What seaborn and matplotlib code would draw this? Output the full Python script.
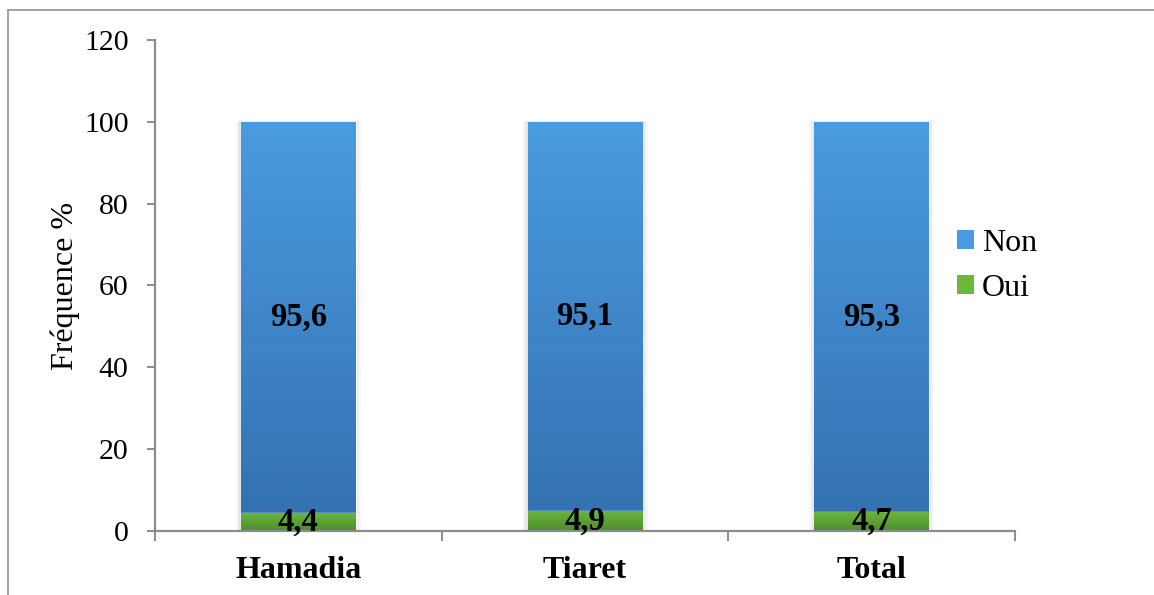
import numpy as np
import pandas as pd
import matplotlib
matplotlib.use("Agg")
import matplotlib.pyplot as plt
import seaborn as sns
from matplotlib.colors import LinearSegmentedColormap
from matplotlib.lines import Line2D
from matplotlib.patches import Patch

# Data
sites = ["Hamadia", "Tiaret", "Total"]
non_pct = [95.6, 95.1, 95.3]
oui_pct = [4.4, 4.9, 4.7]
yticks = [0, 20, 40, 60, 80, 100, 120]

df = pd.DataFrame({"site": sites, "non": non_pct, "oui": oui_pct})
df["cumul"] = df["oui"] + df["non"]

sns.set_theme(style="white")
plt.rcParams["font.family"] = ["Liberation Serif", "DejaVu Serif"]
plt.rcParams["text.color"] = "black"
plt.rcParams["xtick.color"] = "black"
plt.rcParams["ytick.color"] = "black"
plt.rcParams["axes.labelcolor"] = "black"

fig = plt.figure(figsize=(11.54, 5.95), dpi=100)
ax = fig.add_axes([0.1343, 0.1076, 0.8796 - 0.1343, 0.9328 - 0.1076])

blue_top, blue_bot = "#4A9BE1", "#3370AF"
green_top, green_bot = "#6CB83C", "#4E8B2E"

# Stacked bars: full height (Non on top of Oui), then the Oui layer
sns.barplot(data=df, x="site", y="cumul", color=blue_top, width=0.4,
            saturation=1, ax=ax, zorder=2)
sns.barplot(data=df, x="site", y="oui", color=green_top, width=0.4,
            saturation=1, ax=ax, zorder=3)

ax.set_xlim(-0.5, 2.5)
ax.set_ylim(0, 120)

# Vertical gradient fill for each bar segment
blue_cmap = LinearSegmentedColormap.from_list("b", [blue_bot, blue_top])
green_cmap = LinearSegmentedColormap.from_list("g", [green_bot, green_top])
grad = np.linspace(0, 1, 256).reshape(-1, 1)
n = len(sites)
for i, p in enumerate(ax.patches):
    x0, y0 = p.get_x(), p.get_y()
    w, h = p.get_width(), p.get_height()
    cmap = blue_cmap if i < n else green_cmap
    # soft shadow behind each bar
    if i < n:
        for k, a in enumerate([0.05, 0.04, 0.03]):
            d = 0.006 * (k + 1)
            ax.add_patch(plt.Rectangle((x0 - d, y0), w + 2 * d, h + d * 8,
                                       color="black", alpha=a, lw=0, zorder=1))
    im = ax.imshow(grad, cmap=cmap, origin="lower", aspect="auto",
                   extent=(x0, x0 + w, y0, y0 + h),
                   zorder=p.get_zorder() + 0.1)
    im.set_clip_path(p)

ax.set_xlim(-0.5, 2.5)
ax.set_ylim(0, 120)

# Value labels centred in each segment
for i in range(n):
    ax.text(i, oui_pct[i] + non_pct[i] / 2, f"{non_pct[i]:.1f}".replace(".", ","),
            ha="center", va="center", fontsize=23.5, fontweight="bold",
            color="black", zorder=6)
    ax.text(i, oui_pct[i] / 2, f"{oui_pct[i]:.1f}".replace(".", ","),
            ha="center", va="center", fontsize=23.5, fontweight="bold",
            color="black", zorder=6)

# Axes styling
axis_col = "#8C8C8C"
for s in ["top", "right"]:
    ax.spines[s].set_visible(False)
for s in ["left", "bottom"]:
    ax.spines[s].set_color(axis_col)
    ax.spines[s].set_linewidth(1.6)
    ax.spines[s].set_zorder(5)

ax.set_yticks(yticks)
ax.set_yticklabels([str(v) for v in yticks], fontsize=21.5)
ax.tick_params(axis="y", direction="out", length=6, width=1.4, color=axis_col,
               labelcolor="black", left=True, pad=13)

ax.set_xticks(range(n))
ax.set_xticklabels(sites, fontsize=23, fontweight="bold")
ax.set_xticks([-0.5, 0.5, 1.5, 2.5], minor=True)
ax.tick_params(axis="x", which="major", length=0, pad=18, labelcolor="black")
ax.tick_params(axis="x", which="minor", direction="out", length=7, width=1.4,
               color=axis_col, bottom=True)

ax.set_xlabel("")
ax.set_ylabel("Fréquence %", fontsize=23, color="black")
ax.yaxis.set_label_coords(-0.087, 0.5)

# Legend
handles = [Patch(facecolor=blue_top, edgecolor="none", label="Non"),
           Patch(facecolor=green_top, edgecolor="none", label="Oui")]
fig.legend(handles=handles, loc="center left", bbox_to_anchor=(0.804, 0.553),
           frameon=False, fontsize=23, handlelength=0.55, handleheight=0.55,
           handletextpad=0.25, labelspacing=0.5, labelcolor="black")

# Outer frame
fx0 = 8 / 1154
fy0 = 1 - 10 / 595
fig.add_artist(Line2D([fx0, 1], [fy0, fy0], transform=fig.transFigure,
                      color="#9A9A9A", lw=1.3))
fig.add_artist(Line2D([fx0, fx0], [0, fy0], transform=fig.transFigure,
                      color="#9A9A9A", lw=1.3))

fig.savefig("out.png", dpi=100, facecolor="white")
